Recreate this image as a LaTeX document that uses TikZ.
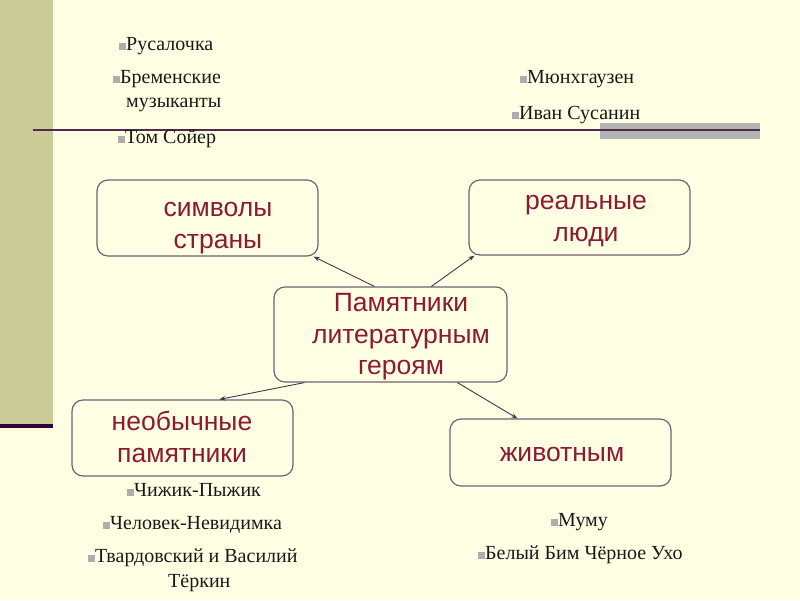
\documentclass[tikz,border=0pt]{standalone}
\usepackage{fontspec}
\setmainfont{Liberation Serif}
\newfontfamily\boxfont{Liberation Sans}
\usetikzlibrary{arrows.meta,calc}
\definecolor{bgcream}{HTML}{FFFFE4}
\definecolor{band}{HTML}{CCCC99}
\definecolor{darkbar}{HTML}{330033}
\definecolor{hline}{HTML}{4D2B4D}
\definecolor{grayrect}{HTML}{B3B3B3}
\definecolor{boxline}{HTML}{765F76}
\definecolor{boxtext}{HTML}{8C1A32}
\definecolor{bulgray}{HTML}{ADADAD}
\definecolor{arrowcol}{HTML}{4D3050}
\newcommand{\bul}{\textcolor{bulgray}{\rule{0.35em}{0.35em}}}
\tikzset{
  roundbox/.style={draw=boxline, line width=1.2pt, rounded corners=11pt, fill=bgcream, inner sep=0pt},
  boxtxt/.style={font=\boxfont\fontsize{26.5}{31.5}\selectfont, text=boxtext, align=center, inner sep=0pt},
  item/.style={font=\fontsize{20}{24}\selectfont, anchor=base west, inner sep=0pt, text=black!90},
  conn/.style={draw=arrowcol, line width=0.9pt, -{Stealth[length=6pt,width=4.5pt]}}
}
\begin{document}
\begin{tikzpicture}[x=1pt,y=-1pt]
\useasboundingbox (0,0) rectangle (800,600);
\fill[bgcream] (0,0) rectangle (800,600);
\fill[band] (0,0) rectangle (53,424);
\fill[darkbar] (0,424) rectangle (53,428);
\fill[grayrect] (600,123) rectangle (760,139);
\draw[hline, line width=1.8pt] (33,130) -- (760,130);

% boxes
\node[roundbox, minimum width=221pt, minimum height=76pt] (sym) at (207.5,218) {};
\node[roundbox, minimum width=221pt, minimum height=75pt] (real) at (579.5,217.5) {};
\node[roundbox, minimum width=233pt, minimum height=95pt] (cen) at (390.5,334.5) {};
\node[roundbox, minimum width=221pt, minimum height=76pt] (unus) at (182.5,438) {};
\node[roundbox, minimum width=221pt, minimum height=67pt] (anim) at (560.5,452.5) {};

% box texts
\node[boxtxt] (tsym) at (218,228) {символы\\страны};
\node[boxtxt] (treal) at (586,221) {реальные\\люди};
\node[boxtxt] (tcen) at (401,337) {Памятники\\литературным\\героям};
\node[boxtxt] (tunus) at (182,437) {необычные\\памятники};
\node[boxtxt] (tanim) at (562,454) {животным};

% connectors
\draw[conn] ($(cen.north west)+(101,0)$) -- ($(sym.south east)+(-5,0)$);
\draw[conn] ($(cen.north west)+(158,0)$) -- ($(real.south west)+(6,0)$);
\draw[conn] ($(cen.south west)+(31,0)$) -- ($(unus.north west)+(148,0)$);
\draw[conn] ($(cen.south west)+(184,0)$) -- ($(anim.north west)+(68,0)$);

% bullet lists
\node[item] (i1) at (119,50) {\bul Русалочка};
\node[item] (i2) at (113,83) {\bul Бременские};
\node[item] (i2b) at (126,107) {музыканты};
\node[item] (i3) at (118,143) {\bul Том Сойер};
\node[item] (i4) at (520,83) {\bul Мюнхгаузен};
\node[item] (i5) at (512,119) {\bul Иван Сусанин};
\node[item] (i6) at (127,496) {\bul Чижик-Пыжик};
\node[item] (i7) at (103,529) {\bul Человек-Невидимка};
\node[item] (i8) at (88,562) {\bul Твардовский и Василий};
\node[item] (i8b) at (168,587) {Тёркин};
\node[item] (i9) at (551,526) {\bul Муму};
\node[item] (i10) at (478,559) {\bul Белый Бим Чёрное Ухо};
\end{tikzpicture}
\end{document}
